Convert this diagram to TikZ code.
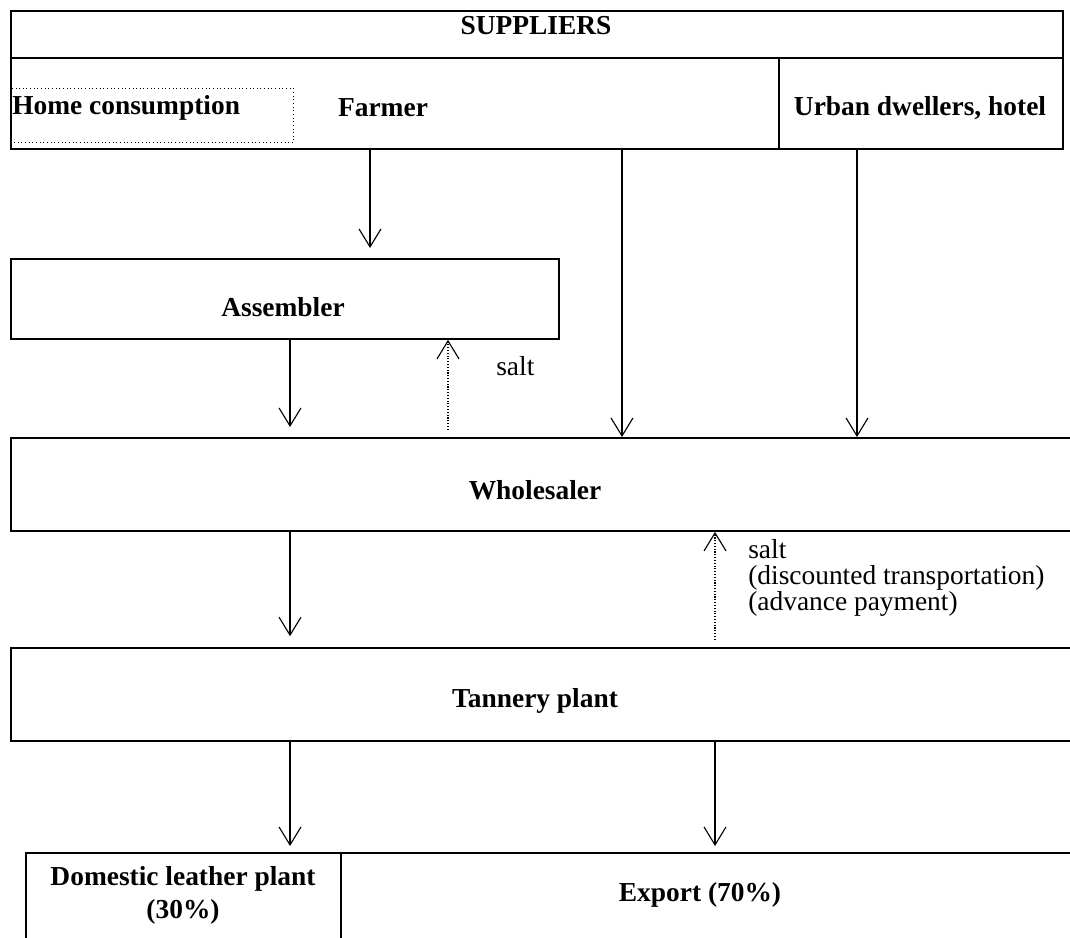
\documentclass[tikz,border=0pt]{standalone}
\usepackage{fontspec}
\setmainfont{Liberation Serif}
\usetikzlibrary{arrows.meta,positioning}

\begin{document}
\fontsize{19.5}{23.5}\selectfont
\begin{tikzpicture}[x=0.025cm, y=-0.025cm,
    box/.style={draw, rectangle, line width=1.3pt, anchor=north west, inner sep=0pt},
    lbl/.style={font=\bfseries, inner sep=0pt},
    note/.style={inner sep=0pt, align=left, font=\fontsize{19.5}{18.5}\selectfont},
    flow/.style={line width=0.8pt, -{Straight Barb[length=0.45cm, width=0.55cm]}},
    back/.style={line width=0.8pt, dash pattern=on 0.8pt off 1.2pt, -{Straight Barb[length=0.45cm, width=0.55cm]}}]
    \useasboundingbox (0,0) rectangle (1070,938);
    \clip (0,0) rectangle (1070,938);

    % Suppliers
    \node[box, minimum width=26.3cm, minimum height=1.175cm] (sup) at (10,10) {};
    \node[box, minimum width=19.2cm, minimum height=2.275cm] (farm) at (10,57) {};
    \node[box, minimum width=7.1cm, minimum height=2.275cm] (urban) at (778,57) {};
    \node[box, line width=0.6pt, dotted, minimum width=7.075cm, minimum height=1.35cm] (home) at (10,88) {};
    \node[lbl] (tsup) at (536,26) {SUPPLIERS};
    \node[lbl, anchor=west] (thome) at (12,108) {Home consumption};
    \node[lbl] (tfarm) at (383,108) {Farmer};
    \node[lbl] (turban) at (920,108) {Urban dwellers, hotel};

    % Chain
    \node[box, minimum width=13.7cm, minimum height=2cm] (asm) at (10,258) {};
    \node[box, minimum width=27.5cm, minimum height=2.325cm] (whole) at (10,437) {};
    \node[box, minimum width=27.5cm, minimum height=2.325cm] (tan) at (10,647) {};
    \node[box, minimum width=7.875cm, minimum height=3cm] (dom) at (25,852) {};
    \node[box, minimum width=20cm, minimum height=3cm] (exp) at (340,852) {};
    \node[lbl] (tasm) at (283,307) {Assembler};
    \node[lbl] (twhole) at (535,490) {Wholesaler};
    \node[lbl] (ttan) at (535,701) {Tannery plant};
    \node[lbl, align=center] (tdom) at (183,895) {Domestic leather plant\\(30\%)};
    \node[lbl] (texp) at (700,895) {Export (70\%)};
    \node[note, anchor=west] (salt1) at (496,366) {salt};
    \node[note, anchor=north west] (salt2) at (748,539) {salt\\(discounted transportation)\\(advance payment)};

    % Columns
    \coordinate (xa) at (290,0);
    \coordinate (xb) at (370,0);
    \coordinate (xc) at (448,0);
    \coordinate (xd) at (622,0);
    \coordinate (xe) at (715,0);
    \coordinate (xf) at (857,0);

    \draw[flow, shorten >=0.25cm] (farm.south -| xb) -- (asm.north -| xb);
    \draw[flow, shorten >=0.25cm] (asm.south -| xa) -- (whole.north -| xa);
    \draw[flow] (farm.south -| xd) -- (whole.north -| xd);
    \draw[flow] (urban.south -| xf) -- (whole.north -| xf);
    \draw[back, shorten <=0.18cm] (whole.north -| xc) -- (asm.south -| xc);
    \draw[flow, shorten >=0.27cm] (whole.south -| xa) -- (tan.north -| xa);
    \draw[back, shorten <=0.18cm] (tan.north -| xe) -- (whole.south -| xe);
    \draw[flow, shorten >=0.15cm] (tan.south -| xa) -- (dom.north -| xa);
    \draw[flow, shorten >=0.15cm] (tan.south -| xe) -- (exp.north -| xe);
\end{tikzpicture}
\end{document}
